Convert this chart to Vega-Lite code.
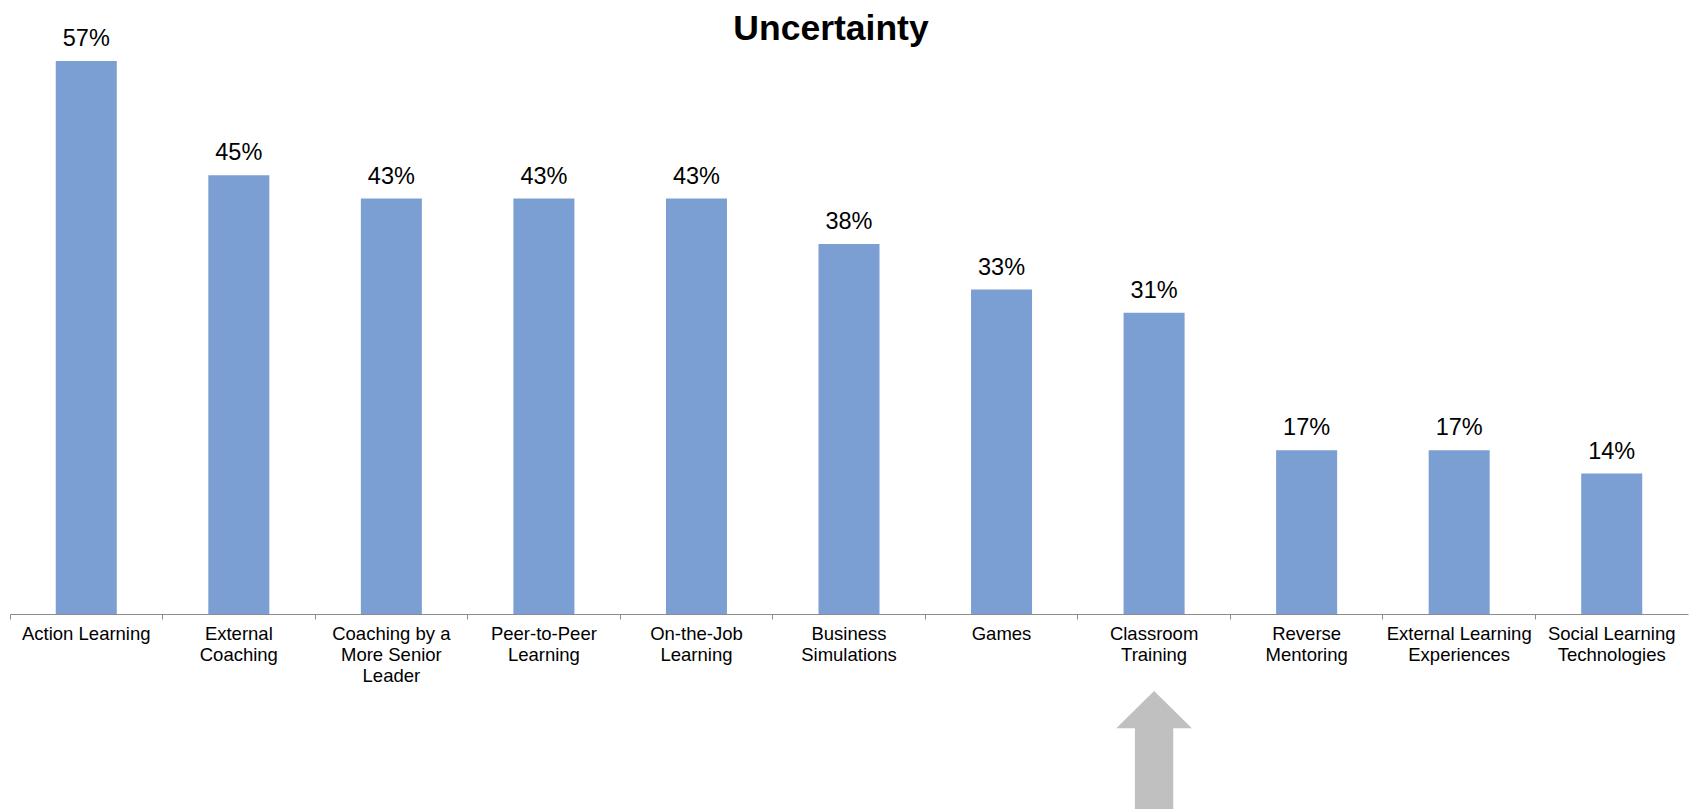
{
  "$schema": "https://vega.github.io/schema/vega-lite/v6.json",
  "autosize": {"type": "none"},
  "width": 1678,
  "height": 581,
  "padding": {"left": 10, "top": 33, "right": 1, "bottom": 195},
  "background": "white",
  "config": {
    "view": {"stroke": null},
    "font": "Liberation Sans"
  },
  "title": {
    "text": "Uncertainty",
    "anchor": "middle",
    "baseline": "alphabetic",
    "offset": -10,
    "dx": -18,
    "dy": 38,
    "font": "Liberation Sans",
    "fontSize": 35.5,
    "fontWeight": "bold",
    "color": "#000000"
  },
  "datasets": {
    "bars": [
      {"category": "Action Learning", "value": 57.1, "label": "57%"},
      {"category": "External|Coaching", "value": 45.3, "label": "45%"},
      {"category": "Coaching by a|More Senior|Leader", "value": 42.9, "label": "43%"},
      {"category": "Peer-to-Peer|Learning", "value": 42.9, "label": "43%"},
      {"category": "On-the-Job|Learning", "value": 42.9, "label": "43%"},
      {"category": "Business|Simulations", "value": 38.2, "label": "38%"},
      {"category": "Games", "value": 33.5, "label": "33%"},
      {"category": "Classroom|Training", "value": 31.1, "label": "31%"},
      {"category": "Reverse|Mentoring", "value": 16.9, "label": "17%"},
      {"category": "External Learning|Experiences", "value": 16.9, "label": "17%"},
      {"category": "Social Learning|Technologies", "value": 14.5, "label": "14%"}
    ],
    "arrow": [
      {"category": "Classroom|Training", "value": -14.04}
    ]
  },
  "encoding": {
    "x": {
      "field": "category",
      "type": "nominal",
      "sort": null,
      "scale": {"paddingInner": 0, "paddingOuter": 0},
      "axis": {
        "title": null,
        "labelAngle": 0,
        "labelExpr": "split(datum.value, '|')",
        "labelFont": "Liberation Sans",
        "labelFontSize": 18.5,
        "labelLineHeight": 21,
        "labelColor": "#000000",
        "labelLimit": 0,
        "labelPadding": 5.5,
        "labelOverlap": false,
        "bandPosition": 0,
        "tickSize": 5,
        "tickColor": "#8c8c8c",
        "domainColor": "#8c8c8c",
        "domainWidth": 1,
        "tickWidth": 1,
        "grid": false
      }
    }
  },
  "layer": [
    {
      "data": {"name": "bars"},
      "mark": {"type": "bar", "color": "#7b9ed3", "width": {"band": 0.4}},
      "encoding": {
        "y": {"field": "value", "type": "quantitative", "scale": {"domain": [0, 60], "nice": false, "zero": true}, "axis": null}
      }
    },
    {
      "data": {"name": "bars"},
      "mark": {"type": "text", "font": "Liberation Sans", "fontSize": 23.5, "color": "#000000", "baseline": "alphabetic", "dy": -15},
      "encoding": {
        "y": {"field": "value", "type": "quantitative"},
        "text": {"field": "label", "type": "nominal"}
      }
    },
    {
      "data": {"name": "arrow"},
      "mark": {
        "type": "point",
        "filled": true,
        "color": "#c0c0c0",
        "opacity": 1,
        "size": 25600,
        "shape": "M0,-0.7375 L0.4725,-0.271 L0.24,-0.271 L0.24,0.7375 L-0.24,0.7375 L-0.24,-0.271 L-0.4725,-0.271 Z"
      },
      "encoding": {
        "y": {"field": "value", "type": "quantitative"}
      }
    }
  ]
}
